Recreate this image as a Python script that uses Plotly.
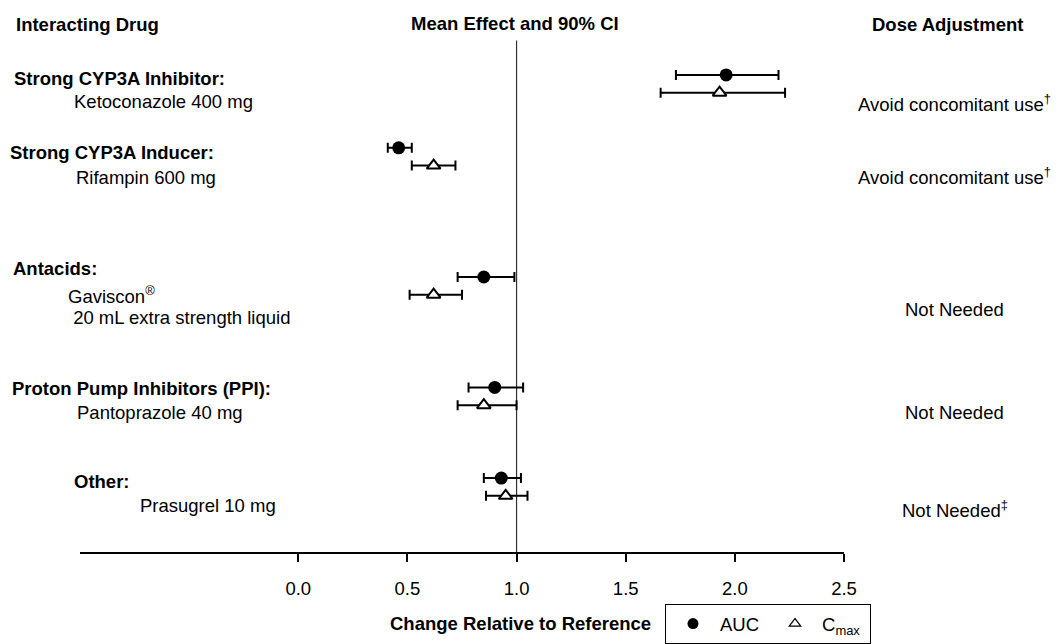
import plotly.graph_objects as go

# ---------------- data ----------------
drug_groups = ["Strong CYP3A Inhibitor:", "Strong CYP3A Inducer:", "Antacids:",
               "Proton Pump Inhibitors (PPI):", "Other:"]
drug_names = [["Ketoconazole 400 mg"], ["Rifampin 600 mg"],
              ["Gaviscon<sup>®</sup>", " 20 mL extra strength liquid"],
              ["Pantoprazole 40 mg"], ["Prasugrel 10 mg"]]
dose_adjust = ["Avoid concomitant use<sup>†</sup>", "Avoid concomitant use<sup>†</sup>",
               "Not Needed", "Not Needed", "Not Needed<sup>‡</sup>"]

auc_mean = [1.96, 0.46, 0.85, 0.90, 0.93]
auc_lo = [1.73, 0.41, 0.73, 0.78, 0.85]
auc_hi = [2.20, 0.52, 0.99, 1.03, 1.02]

cmax_mean = [1.93, 0.62, 0.62, 0.85, 0.95]
cmax_lo = [1.66, 0.52, 0.51, 0.73, 0.86]
cmax_hi = [2.23, 0.72, 0.75, 1.00, 1.05]

tick_vals = [0.0, 0.5, 1.0, 1.5, 2.0, 2.5]
tick_text = ["0.0", "0.5", "1.0", "1.5", "2.0", "2.5"]

# ---------------- layout constants (pixels) ----------------
W, H = 1057, 644
PL, PR, PT, PB = 80, 844, 0, 560
row_y = [76, 150, 281, 393, 485]      # AUC row positions (y axis units = px)
pair_gap = 18                         # Cmax drawn below AUC
FONT = "Liberation Sans, Arial, Helvetica, sans-serif"
FS = 18.5


def px(xp):
    return (xp - PL) / (PR - PL)


def py(yp):
    return (PB - yp) / (PB - PT)


cmax_y = [y + pair_gap for y in row_y]

fig = go.Figure()

fig.add_trace(go.Scatter(
    x=auc_mean, y=row_y, mode="markers", showlegend=False, name="AUC",
    marker=dict(symbol="circle", size=13, color="black"),
    error_x=dict(type="data", symmetric=False,
                 array=[h - m for h, m in zip(auc_hi, auc_mean)],
                 arrayminus=[m - l for m, l in zip(auc_mean, auc_lo)],
                 color="black", thickness=2, width=5),
))
fig.add_trace(go.Scatter(
    x=cmax_mean, y=cmax_y, mode="markers", showlegend=False, name="Cmax",
    marker=dict(symbol="triangle-up", size=12, color="white",
                line=dict(color="black", width=2)),
    error_x=dict(type="data", symmetric=False,
                 array=[h - m for h, m in zip(cmax_hi, cmax_mean)],
                 arrayminus=[m - l for m, l in zip(cmax_mean, cmax_lo)],
                 color="black", thickness=2, width=5),
))
# legend entries
fig.add_trace(go.Scatter(x=[None], y=[None], mode="markers", name="AUC",
                         marker=dict(symbol="circle", size=11, color="black")))
fig.add_trace(go.Scatter(x=[None], y=[None], mode="markers", name="C<sub>max</sub>",
                         marker=dict(symbol="triangle-up", size=10, color="white",
                                     line=dict(color="black", width=1.2))))

# reference line at 1.0
fig.add_shape(type="line", xref="x", yref="y", x0=1.0, x1=1.0, y0=41, y1=PB,
              line=dict(color="#333333", width=1.2), layer="below")

ann = []


def text(x, y, s, anchor="left", bold=False, size=FS):
    ann.append(dict(xref="paper", yref="paper", x=px(x), y=py(y), text=("<b>%s</b>" % s) if bold else s,
                    xanchor=anchor, yanchor="middle", showarrow=False,
                    font=dict(family=FONT, size=size, color="black")))


# headers
text(14, 25, "Interacting Drug", bold=True)
text(515, 24, "Mean Effect and 90% CI", anchor="center", bold=True)
text(947, 25, "Dose Adjustment", anchor="center", bold=True)

# left labels
group_pos = [(12, 80), (8, 155), (11, 272), (10, 394), (72, 488)]
name_pos = [[(72, 103)], [(74, 180)], [(66, 299), (66, 322)], [(75, 418)], [(138, 513)]]
for g, (gx, gy) in zip(drug_groups, group_pos):
    text(gx, gy, g, bold=True)
for names, poss in zip(drug_names, name_pos):
    for n, (nx, ny) in zip(names, poss):
        text(nx, ny, n)

# right labels
dose_y = [104, 179, 314, 418, 516]
for d, dy in zip(dose_adjust, dose_y):
    text(955, dy, d, anchor="center")

# axis title
text(520, 633, "Change Relative to Reference", anchor="center", bold=True)

fig.update_layout(
    width=W, height=H,
    margin=dict(l=PL, r=W - PR, t=PT, b=H - PB, pad=0),
    paper_bgcolor="white", plot_bgcolor="white",
    font=dict(family=FONT, size=FS, color="black"),
    annotations=ann,
    xaxis=dict(range=[-1.0, 2.5], showgrid=False, zeroline=False,
               showline=True, linecolor="black", linewidth=2,
               ticks="outside", ticklen=8, tickwidth=1.5, tickcolor="black",
               tickvals=tick_vals, ticktext=tick_text, ticklabelstandoff=11,
               tickfont=dict(family=FONT, size=FS, color="black")),
    yaxis=dict(range=[PB, PT], visible=False, showgrid=False, zeroline=False),
    showlegend=True,
    legend=dict(orientation="h", x=px(665), y=py(613), xanchor="left", yanchor="top",
                bordercolor="black", borderwidth=1, bgcolor="white",
                font=dict(family=FONT, size=FS, color="black"),
                itemwidth=44, entrywidth=43, entrywidthmode="pixels", tracegroupgap=0),
)

fig.write_html("out.html")
